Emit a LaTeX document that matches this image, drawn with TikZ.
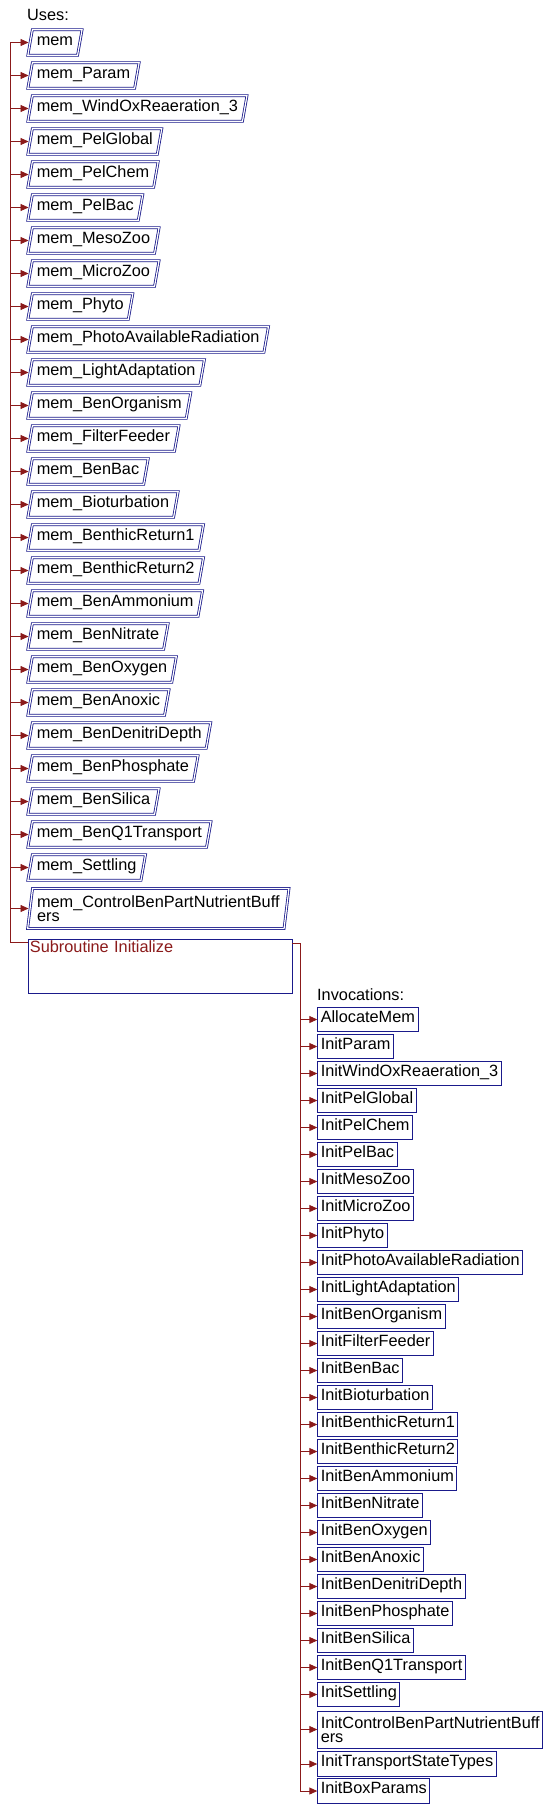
\documentclass[tikz,border=0pt]{standalone}
\usepackage{fontspec}
\setmainfont{Liberation Sans}
\usepackage{xcolor}
\usetikzlibrary{arrows.meta,shapes.geometric,positioning}
\definecolor{boxblue}{RGB}{26,26,139}
\definecolor{edgered}{RGB}{139,26,26}

\begin{document}
\begin{tikzpicture}[x=1pt,y=-1pt,>={Triangle[length=8pt,width=7pt]},
  every node/.style={font=\fontsize{16.3pt}{14pt}\selectfont},
  usebox/.style={trapezium,trapezium left angle=80,trapezium right angle=100,
    draw=boxblue,double=white,double distance=1.2pt,line width=0.8pt,
    inner xsep=4.5pt,inner ysep=4.7pt,text height=11pt,text depth=5pt,anchor=west},
  callbox/.style={draw=boxblue,line width=0.9pt,inner xsep=3pt,inner ysep=2.5pt,
    text height=12.3pt,text depth=7.2pt,anchor=west},
  subbox/.style={draw=boxblue,line width=0.9pt,anchor=north west,text=edgered,
    inner xsep=2pt,inner ysep=1.5pt,text width=260pt,text height=11.7pt,text depth=39.3pt},
  link/.style={draw=edgered,line width=0.9pt}]
  \useasboundingbox[fill=white] (0,0) rectangle (549,1810);

  % used modules
  \node[anchor=base west,inner sep=0pt] (usestitle) at (27,20) {Uses:};
  \foreach \nm [count=\i from 0] in {mem,mem\_Param,mem\_WindOxReaeration\_3,mem\_PelGlobal,
    mem\_PelChem,mem\_PelBac,mem\_MesoZoo,mem\_MicroZoo,mem\_Phyto,mem\_PhotoAvailableRadiation,
    mem\_LightAdaptation,mem\_BenOrganism,mem\_FilterFeeder,mem\_BenBac,mem\_Bioturbation,
    mem\_BenthicReturn1,mem\_BenthicReturn2,mem\_BenAmmonium,mem\_BenNitrate,mem\_BenOxygen,
    mem\_BenAnoxic,mem\_BenDenitriDepth,mem\_BenPhosphate,mem\_BenSilica,mem\_BenQ1Transport,
    mem\_Settling}
    \node[usebox] (u\i) at (29.7,{42.5+33*\i}) {\nm};
  \node[usebox,trapezium left angle=83,trapezium right angle=97,text height={},text depth={},
    inner ysep=7pt,align=left] (u26) at (29.7,908.5) {mem\_ControlBenPartNutrientBuff\\ers};

  % the subroutine itself
  \node[subbox] (sub) at (27.5,938.5) {Subroutine Initialize};
  \coordinate (subin) at ([yshift=-4pt]sub.north west);
  \coordinate (subout) at ([yshift=-4.5pt]sub.north east);

  % invoked routines
  \node[anchor=base west,inner sep=0pt] (calltitle) at (317,1000.7) {Invocations:};
  \foreach \nm [count=\i from 0] in {AllocateMem,InitParam,InitWindOxReaeration\_3,InitPelGlobal,
    InitPelChem,InitPelBac,InitMesoZoo,InitMicroZoo,InitPhyto,InitPhotoAvailableRadiation,
    InitLightAdaptation,InitBenOrganism,InitFilterFeeder,InitBenBac,InitBioturbation,
    InitBenthicReturn1,InitBenthicReturn2,InitBenAmmonium,InitBenNitrate,InitBenOxygen,
    InitBenAnoxic,InitBenDenitriDepth,InitBenPhosphate,InitBenSilica,InitBenQ1Transport,
    InitSettling}
    \node[callbox] (c\i) at (317.3,{1019.5+27*\i}) {\nm};
  \node[callbox,text height={},text depth={},inner ysep=5.5pt,align=left] (c26) at (317.3,1729.5)
    {InitControlBenPartNutrientBuff\\ers};
  \node[callbox] (c27) at (317.3,1764) {InitTransportStateTypes};
  \node[callbox] (c28) at (317.3,1791) {InitBoxParams};

  % connectors
  \coordinate (ubus) at (10,0);
  \coordinate (cbus) at (300,0);
  \draw[link] (subin) -| (ubus |- u0.west);
  \foreach \i in {0,...,26}
    \draw[link,->,shorten >=1.2pt] (ubus |- u\i.west) -- (u\i.west);
  \draw[link] (subout) -| (cbus |- c28.west);
  \foreach \i in {0,...,28}
    \draw[link,->] (cbus |- c\i.west) -- (c\i.west);
\end{tikzpicture}
\end{document}
